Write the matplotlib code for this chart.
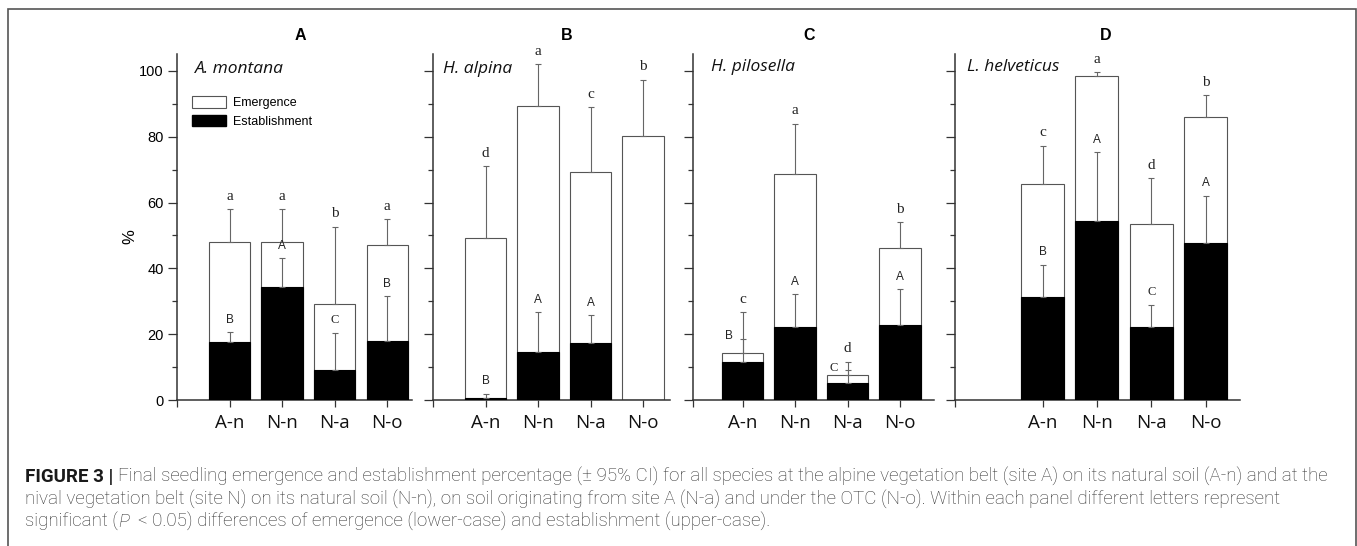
"""
Seedling emergence / establishment figure (4 panels + caption).
Saves out.png at 1357x546.
"""
import matplotlib
matplotlib.use("Agg")
import matplotlib.pyplot as plt
from matplotlib.patches import Patch, Rectangle

W, H = 1357, 546

treatments = ["A-n", "N-n", "N-a", "N-o"]
panel_tags = ["A", "B", "C", "D"]
species = ["A. montana", "H. alpina", "H. pilosella", "L. helveticus"]

# emergence (%) and upper end of its 95% CI, per panel
emergence = [
    [47.9, 47.9, 29.3, 47.0],
    [49.3, 89.3, 69.3, 80.3],
    [14.2, 68.7, 7.6, 46.3],
    [65.7, 98.6, 53.4, 86.1],
]
emergence_ci = [
    [58.0, 58.0, 52.7, 54.9],
    [71.0, 102.0, 89.0, 97.3],
    [26.6, 84.0, 11.7, 54.0],
    [77.3, 99.6, 67.4, 92.6],
]
# establishment (%) and upper end of its 95% CI
establishment = [
    [17.7, 34.3, 9.0, 17.8],
    [0.5, 14.7, 17.2, 0.0],
    [11.5, 22.1, 5.3, 22.9],
    [31.4, 54.5, 22.1, 47.7],
]
establishment_ci = [
    [20.6, 43.1, 20.5, 31.5],
    [1.9, 26.6, 25.8, None],
    [18.5, 32.1, 9.0, 33.6],
    [41.1, 75.3, 29.0, 62.0],
]
emergence_letters = [
    ["a", "a", "b", "a"],
    ["d", "a", "c", "b"],
    ["c", "a", "d", "b"],
    ["c", "a", "d", "b"],
]
establishment_letters = [
    ["B", "A", "C", "B"],
    ["B", "A", "A", ""],
    ["B", "A", "C", "A"],
    ["B", "A", "C", "A"],
]

caption_lines = [
    [("FIGURE 3 |", "bold"),
     ("Final seedling emergence and establishment percentage (\u00b1 95% CI) for all species at the "
      "alpine vegetation belt (site A) on its natural soil (A-n) and at the", "normal")],
    [("nival vegetation belt (site N) on its natural soil (N-n), on soil originating from site A "
      "(N-a) and under the OTC (N-o). Within each panel different letters represent", "normal")],
    [("significant (", "normal"), ("P", "italic"),
     ("< 0.05) differences of emergence (lower-case) and establishment (upper-case).", "normal")],
]

# ── layout (pixels) ───────────────────────────────────────────────────────
# (left px, right px, xlim)
axes_px = [(177, 412, (0, 4.47)),
           (433, 670, (0, 4.51)),
           (693, 934, (0.05, 4.65)),
           (955, 1240, (-0.61, 4.63))]
y0_px, ytop_px, ymax = 400, 54.5, 105
tag_x_px = [300, 567, 809, 1106]
name_pos = [(0.077, 0.946), (0.041, 0.946), (0.075, 0.952), (0.041, 0.952)]

SANS = ["Liberation Sans", "DejaVu Sans"]
SERIF = ["Liberation Serif", "DejaVu Serif"]
EDGE = "#555555"
AXC = "#333333"

fig = plt.figure(figsize=(W / 100, H / 100), dpi=100)
bottom = 1 - y0_px / H
height = (y0_px - ytop_px) / H
width_bar = 0.79

for p in range(4):
    lpx, rpx, xl = axes_px[p]
    ax = fig.add_axes([lpx / W, bottom, (rpx - lpx) / W, height])
    xs = [1, 2, 3, 4]
    ax.bar(xs, emergence[p], width_bar, color="white", edgecolor=EDGE, linewidth=0.8, zorder=2)
    ax.bar(xs, establishment[p], width_bar, color="black", edgecolor="black", linewidth=0.8, zorder=3)

    for i, x in enumerate(xs):
        e, eci = emergence[p][i], emergence_ci[p][i]
        ax.errorbar([x], [e], yerr=[[0], [eci - e]], fmt="none", ecolor="#666666",
                    elinewidth=0.8, capsize=2.3, capthick=0.8, zorder=4)
        ax.text(x, eci + 2.0, emergence_letters[p][i], ha="center", va="bottom",
                fontsize=11, family=SERIF, color="#222222")
        s, sci = establishment[p][i], establishment_ci[p][i]
        if sci is None:
            continue
        ax.errorbar([x], [s], yerr=[[0], [sci - s]], fmt="none", ecolor="#666666",
                    elinewidth=0.8, capsize=2.3, capthick=0.8, zorder=4)
        lab = establishment_letters[p][i]
        fam = SERIF if lab == "C" else SANS
        fs = 9 if lab == "C" else 8.5
        if sci + 3 > e:
            # no room inside the bar: letter goes left of the CI tip
            ax.text(x - 0.27, sci + 0.8, lab, ha="center", va="center",
                    fontsize=fs, family=fam, color="#222222", zorder=5)
        else:
            ax.text(x, sci + 2.0, lab, ha="center", va="bottom",
                    fontsize=fs, family=fam, color="#222222", zorder=5)

    ax.set_xlim(*xl)
    ax.set_ylim(0, ymax)
    for sp in ["top", "right"]:
        ax.spines[sp].set_visible(False)
    for sp in ["left", "bottom"]:
        ax.spines[sp].set_color(AXC)
        ax.spines[sp].set_linewidth(1.1)
    ax.spines["left"].set_zorder(6)
    ax.set_xticks([xl[0]] + xs)
    ax.set_xticklabels([""] + treatments, fontsize=13.5, family=["Open Sans", "DejaVu Sans"],
                       color="#111111")
    ax.set_yticks(range(0, 101, 20))
    ax.set_yticks(range(10, 100, 20), minor=True)
    if p == 0:
        ax.set_yticklabels([str(v) for v in range(0, 101, 20)], fontsize=10.5, family=SANS)
    else:
        ax.set_yticklabels([])
    ax.tick_params(axis="y", which="major", direction="out", length=6.5, width=0.9,
                   color=AXC, pad=3)
    ax.tick_params(axis="y", which="minor", direction="out", length=3.6, width=0.9, color=AXC)
    ax.tick_params(axis="x", direction="out", length=5, width=0.9, color=AXC, pad=5)

    ax.text(name_pos[p][0], name_pos[p][1], species[p], transform=ax.transAxes,
            fontsize=12.5, style="italic", family=["Open Sans", "DejaVu Sans"],
            ha="left", va="baseline", color="#111111")
    fig.text(tag_x_px[p] / W, 1 - 35 / H, panel_tags[p], ha="center", va="center",
             fontsize=11.5, fontweight="bold", family=SANS)

    if p == 0:
        handles = [Patch(facecolor="white", edgecolor=EDGE, linewidth=0.8, label="Emergence"),
                   Patch(facecolor="black", edgecolor="black", label="Establishment")]
        ax.legend(handles=handles, loc="upper left", bbox_to_anchor=(0.064, 0.88),
                  frameon=False, fontsize=9, handlelength=2.7, handleheight=1.05,
                  handletextpad=0.6, labelspacing=0.45, borderpad=0, borderaxespad=0,
                  prop={"family": SANS, "size": 9})

fig.text(130 / W, 1 - 237 / H, "%", rotation=90, ha="center", va="center",
         fontsize=12, family=SANS)

# ── caption ──────────────────────────────────────────────────────────────
r = fig.canvas.get_renderer()
CAP = ["Roboto", "DejaVu Sans"]


def text_w(s, size, **kw):
    t = fig.text(0, 0, s, fontsize=size, family=CAP, **kw)
    w = t.get_window_extent(r).width
    t.remove()
    return w


def run_kw(style):
    if style == "bold":
        return {"fontweight": "bold", "color": "#1a1a1a"}
    if style == "italic":
        return {"style": "italic", "fontweight": "light", "color": "#333333"}
    return {"fontweight": "light", "color": "#333333"}


base = 12
w1 = sum(text_w(s, base, **run_kw(st)) for s, st in caption_lines[0])
w1 += (text_w("a a", base, fontweight="light") - text_w("aa", base, fontweight="light"))
cap_size = base * (1324 - 25) / w1
space = text_w("a a", cap_size, fontweight="light") - text_w("aa", cap_size, fontweight="light")

baselines = [482, 504.5, 527]
for line, yb in zip(caption_lines, baselines):
    x = 25
    for k, (s, st) in enumerate(line):
        t = fig.text(x / W, 1 - yb / H, s, fontsize=cap_size, family=CAP, ha="left",
                     va="baseline", **run_kw(st))
        x += t.get_window_extent(r).width
        if st == "italic":
            x += 2 * space  # italic glyph box runs short, so pad a little more
        elif not s.endswith("("):
            x += space

# outer frame; its bottom edge sits just past the image edge, as in the source
fig.patches.append(Rectangle((8 / W, 1 - 550 / H), (1356 - 8) / W, (550 - 9) / H,
                             transform=fig.transFigure, fill=False, edgecolor="#555555",
                             linewidth=1.2, clip_on=False))

fig.savefig("out.png", dpi=100)
